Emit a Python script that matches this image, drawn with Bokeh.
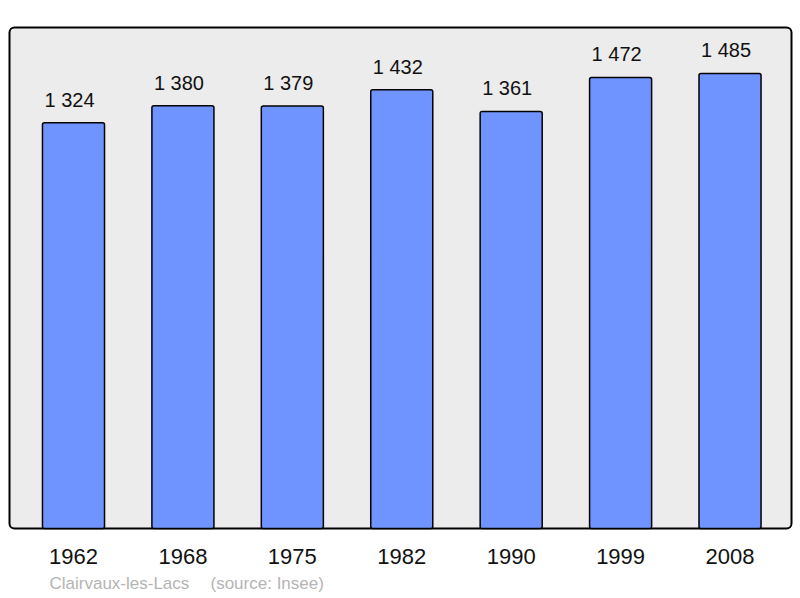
from bokeh.plotting import figure
from bokeh.models import ColumnDataSource, BoxAnnotation, Label, Range1d
from bokeh.core.properties import value
from bokeh.embed import file_html
from bokeh.resources import INLINE

years = ["1962", "1968", "1975", "1982", "1990", "1999", "2008"]
population = [1324, 1380, 1379, 1432, 1361, 1472, 1485]
value_labels = ["1 324", "1 380", "1 379", "1 432", "1 361", "1 472", "1 485"]
source_town = "Clairvaux-les-Lacs"
source_note = "(source: Insee)"

xs = list(range(len(years)))
src = ColumnDataSource(dict(x=xs, top=population, lab=value_labels, yr=years,
                            base=[0] * len(xs)))

FONT = "Liberation Sans"
W, H = 800, 598
PX_X = 109.42      # pixels per category step
PX_Y = 0.3064      # pixels per inhabitant
X0, Y0 = 73, 528   # page position of first bar centre / baseline

p = figure(width=W, height=H, output_backend="svg", toolbar_location=None,
           x_range=Range1d(-X0 / PX_X, (W - X0) / PX_X),
           y_range=Range1d(-(H - Y0) / PX_Y, Y0 / PX_Y),
           min_border=0, min_border_top=0, min_border_left=0,
           min_border_right=0, min_border_bottom=0)
p.background_fill_color = "white"
p.border_fill_color = "white"
p.outline_line_color = None
p.grid.visible = False
p.axis.visible = False

frame_box = BoxAnnotation(left=(9 - X0) / PX_X, right=(791 - X0) / PX_X,
                          bottom=0, top=(Y0 - 27) / PX_Y,
                          fill_color="#ececec", fill_alpha=1.0, line_color="black",
                          line_alpha=1.0, line_width=2, border_radius=5,
                          level="underlay")
p.add_layout(frame_box)

p.vbar(x="x", top="top", bottom=0, width=0.567, source=src, fill_color="#7094ff",
       line_color="black", line_width=1.5, border_radius=2)

p.text(x="x", y="top", text="lab", source=src, text_align="center",
       text_baseline="alphabetic", x_offset=-4, y_offset=-23, text_font=value(FONT),
       text_font_size="20px", text_color="#111111")

p.text(x="x", y="base", text="yr", source=src, text_align="center",
       text_baseline="middle", y_offset=28, text_font=value(FONT),
       text_font_size="22px", text_color="#111111")

for txt, xpos in [(source_town, 49), (source_note, 210)]:
    p.add_layout(Label(x=xpos, y=H - 583, x_units="screen", y_units="screen", text=txt,
                       text_font=FONT, text_font_size="17px", text_color="#b4b4b4",
                       text_baseline="middle"))

open("out.html", "w").write(file_html(p, INLINE))
